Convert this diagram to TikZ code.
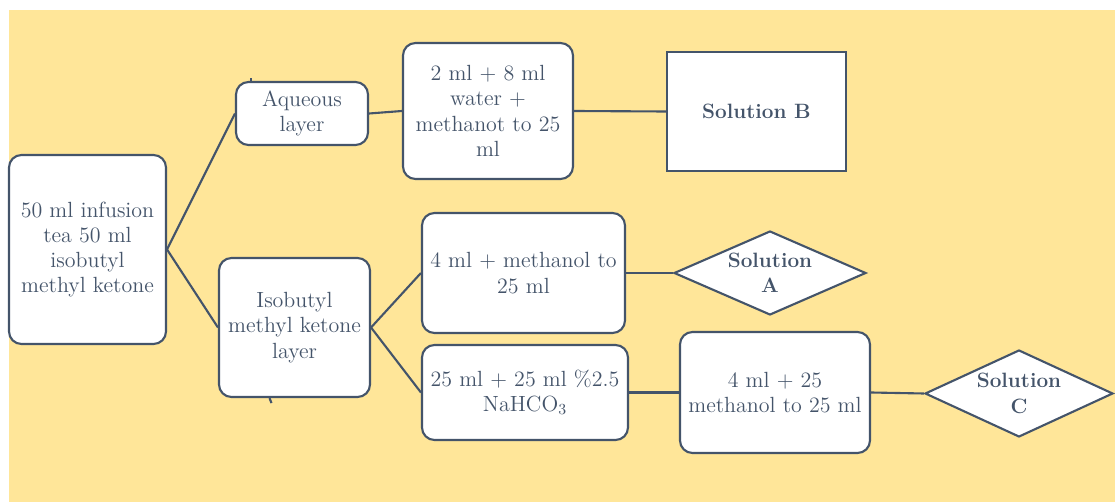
\documentclass[tikz,border=0pt]{standalone}
\usetikzlibrary{shapes.geometric}
\definecolor{bgyellow}{HTML}{FFE699}
\definecolor{slate}{HTML}{44546A}

\tikzset{
    box/.style={draw=slate,line width=1.2pt,fill=white,rounded corners=0.25cm,
        align=center,inner sep=2pt,text=slate,font=\fontsize{12.5}{14.4}\selectfont},
    solbox/.style={draw=slate,line width=1.2pt,fill=white,align=center,inner sep=2pt,
        text=slate,font=\fontsize{11.8}{14.4}\selectfont\bfseries},
    soldiamond/.style={solbox,diamond,shape aspect=2.29,inner sep=0pt},
    link/.style={draw=slate,line width=1.2pt}
}

\begin{document}
\begin{tikzpicture}
        % \draw[help lines,xstep=1,ystep=1] (0,0) grid (22,10);

        \useasboundingbox (0,0) rectangle (22.3,10.04);
        \fill[bgyellow] (0.18,0) rectangle (22.3,9.84);

        \node[box,minimum width=3.14cm,minimum height=3.78cm] (infusion) at (1.75,5.05)
            {50 ml infusion\\tea 50 ml\\isobutyl\\methyl ketone};
        \node[box,minimum width=2.64cm,minimum height=1.26cm] (aqueous) at (6.04,7.77)
            {Aqueous\\layer};
        \node[box,minimum width=3.02cm,minimum height=2.78cm] (ketone) at (5.89,3.49)
            {Isobutyl\\methyl ketone\\layer};
        \node[box,minimum width=3.40cm,minimum height=2.72cm] (water) at (9.76,7.82)
            {2 ml + 8 ml\\water +\\methanot to 25\\ml};
        \node[solbox,minimum width=3.58cm,minimum height=2.38cm] (solB) at (15.13,7.81)
            {Solution B};
        \node[box,minimum width=4.06cm,minimum height=2.40cm] (methanol) at (10.47,4.58)
            {4 ml + methanol to\\25 ml};
        \node[soldiamond,minimum width=3.84cm,minimum height=1.68cm] (solA) at (15.40,4.58)
            {Solution\\A};
        \node[box,minimum width=4.12cm,minimum height=1.90cm] (bicarb) at (10.50,2.19)
            {25 ml + 25 ml \%2.5\\NaHCO\textsubscript{3}};
        \node[box,minimum width=3.80cm,minimum height=2.42cm] (dilute) at (15.50,2.19)
            {4 ml + 25\\methanol to 25 ml};
        \node[soldiamond,minimum width=3.76cm,minimum height=1.74cm] (solC) at (20.38,2.17)
            {Solution\\C};

        % infusion to the two layers
        \draw[link] (infusion.east) -- (aqueous.west);
        \draw[link] (infusion.east) -- (ketone.west);

        % aqueous branch
        \draw[link] (aqueous.east) -- (water.west);
        \draw[link] (water.east) -- (solB.west);

        % ketone branch
        \draw[link] (ketone.east) -- (methanol.west);
        \draw[link] (ketone.east) -- (bicarb.west);
        \draw[link] (methanol.east) -- (solA.west);
        \draw[link] (bicarb.east) -- (dilute.west);
        \draw[link] (dilute.east) -- (solC.west);

        % stubs
        \draw[link] ([xshift=0.32cm]aqueous.north west) -- ++(0,0.05);
        \draw[link] ([xshift=-0.50cm]ketone.south) -- ++(0.04,-0.1);

      \end{tikzpicture}
\end{document}
